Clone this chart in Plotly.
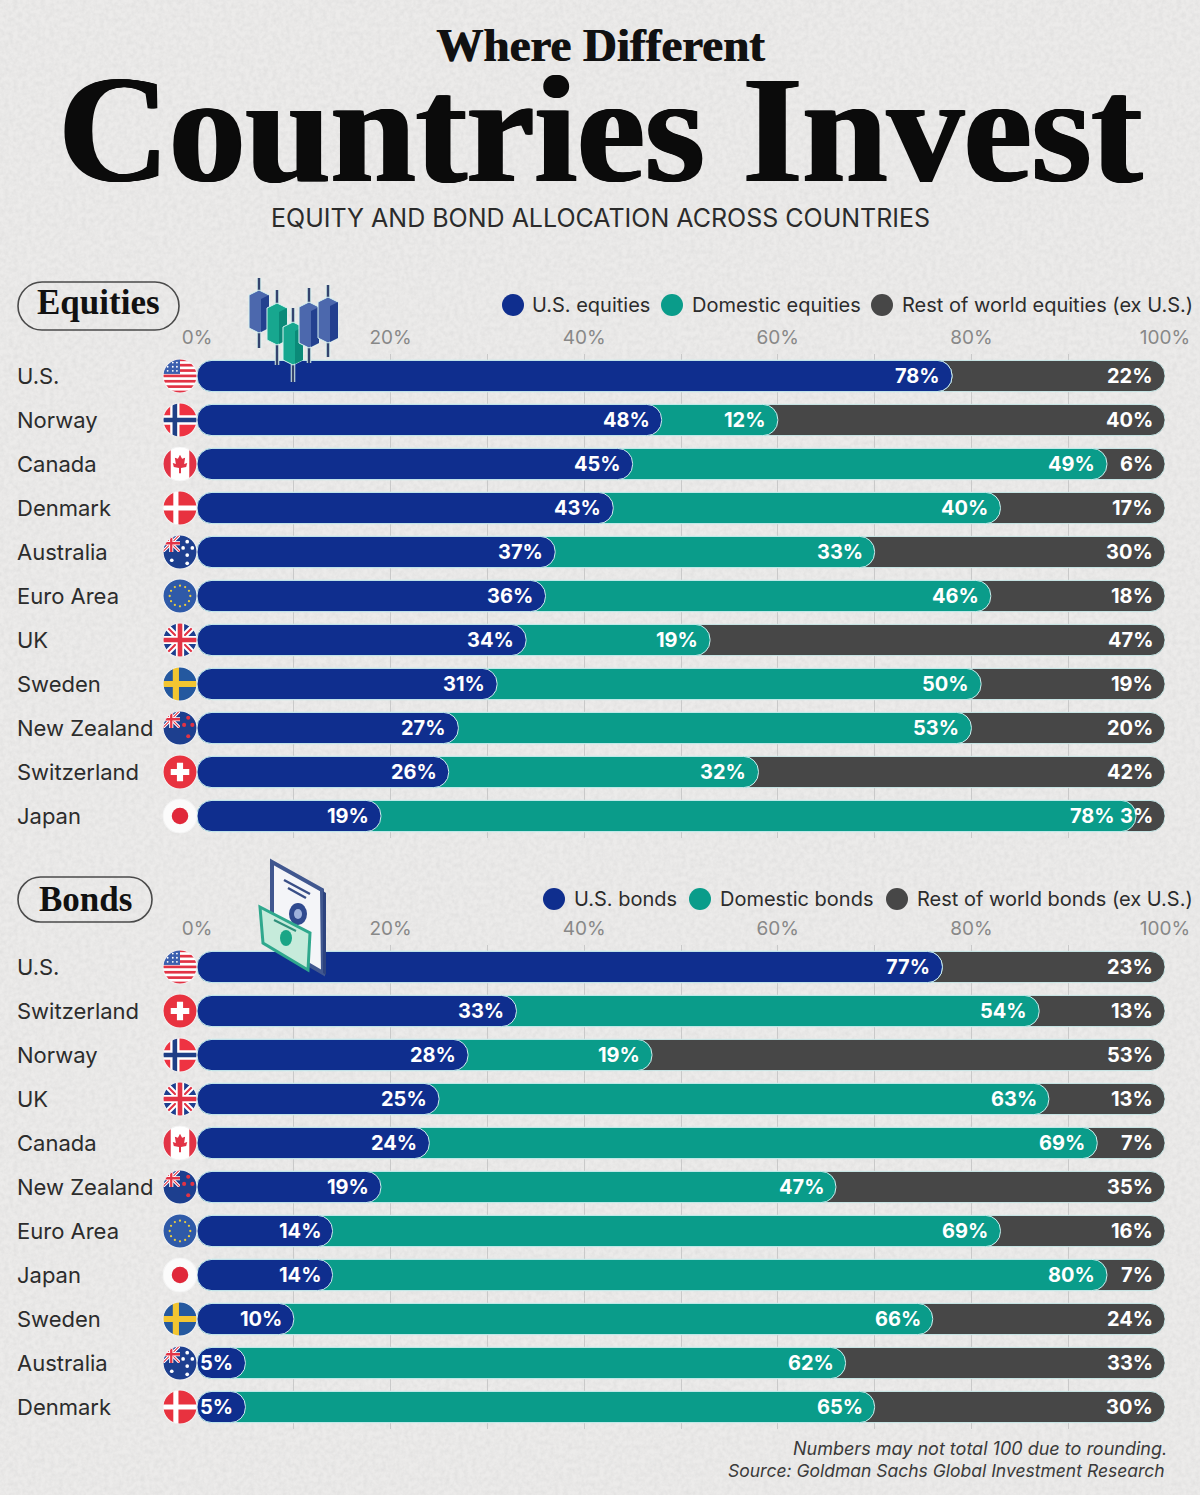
import base64

import plotly.graph_objects as go

W, H = 1200, 1495

eq_countries = ["U.S.", "Norway", "Canada", "Denmark", "Australia", "Euro Area", "UK", "Sweden",
                "New Zealand", "Switzerland", "Japan"]
eq_us = [78, 48, 45, 43, 37, 36, 34, 31, 27, 26, 19]
eq_domestic = [0, 12, 49, 40, 33, 46, 19, 50, 53, 32, 78]
eq_rest = [22, 40, 6, 17, 30, 18, 47, 19, 20, 42, 3]

bd_countries = ["U.S.", "Switzerland", "Norway", "UK", "Canada", "New Zealand", "Euro Area", "Japan",
                "Sweden", "Australia", "Denmark"]
bd_us = [77, 33, 28, 25, 24, 19, 14, 14, 10, 5, 5]
bd_domestic = [0, 54, 19, 63, 69, 47, 69, 80, 66, 62, 65]
bd_rest = [23, 13, 53, 13, 7, 35, 16, 7, 24, 33, 30]

x_ticks = [0, 20, 40, 60, 80, 100]
x_labels = ["0%", "20%", "40%", "60%", "80%", "100%"]

BLUE = "#0f2e8e"
TEAL = "#0a9c8a"
GREY = "#474747"
INK = "#2c2c2c"
SANS = "Inter"
SERIF = "Liberation Serif"


def px(x):
    return x / W


def py(y):
    return 1 - y / H


def svg_uri(body, w=34, h=34):
    svg = f'<svg xmlns="http://www.w3.org/2000/svg" width="{w}" height="{h}" viewBox="0 0 {w} {h}">{body}</svg>'
    return "data:image/svg+xml;base64," + base64.b64encode(svg.encode()).decode()


def flag(body):
    return svg_uri('<defs><clipPath id="c"><circle cx="17" cy="17" r="16.5"/></clipPath></defs>'
                   f'<g clip-path="url(#c)">{body}</g>'
                   '<circle cx="17" cy="17" r="16.5" fill="none" stroke="#f3f3f3" stroke-width="1"/>')


def union(w=34, h=34):
    return (f'<rect width="{w}" height="{h}" fill="#1d3f8f"/>'
            f'<path d="M0 0L{w} {h}M{w} 0L0 {h}" stroke="#fff" stroke-width="6"/>'
            f'<path d="M0 0L{w} {h}M{w} 0L0 {h}" stroke="#e23345" stroke-width="2"/>'
            f'<path d="M{w/2} 0V{h}M0 {h/2}H{w}" stroke="#fff" stroke-width="8"/>'
            f'<path d="M{w/2} 0V{h}M0 {h/2}H{w}" stroke="#e23345" stroke-width="4.5"/>')


def stars(points, color, r=1.8):
    return "".join(f'<circle cx="{a}" cy="{b}" r="{r}" fill="{color}"/>' for a, b in points)


us_stripes = "".join(f'<rect y="{i * 5.2}" width="34" height="2.6" fill="#e23345"/>' for i in range(7))
au_body = ('<rect width="34" height="34" fill="#1d3f8f"/><svg width="17" height="17" viewBox="0 0 34 34">'
           + union() + "</svg>")

FLAGS = {
    "U.S.": flag('<rect width="34" height="34" fill="#fff"/>' + us_stripes
                 + '<rect width="17" height="15" fill="#3b5fae"/>'
                 + stars([(5, 4), (10, 4), (14, 4), (5, 8), (10, 8), (14, 8), (5, 12), (10, 12), (14, 12)], "#fff", 0.9)),
    "Norway": flag('<rect width="34" height="34" fill="#ee3342"/>'
                   '<path d="M12 0V34M0 17H34" stroke="#fff" stroke-width="9"/>'
                   '<path d="M12 0V34M0 17H34" stroke="#1f3f86" stroke-width="4.5"/>'),
    "Canada": flag('<rect width="34" height="34" fill="#fff"/><rect width="8" height="34" fill="#e23345"/>'
                   '<rect x="26" width="8" height="34" fill="#e23345"/>'
                   '<path d="M17 8L19 12L22 11L21 17L24 16L23 20L18 21V26H16V21L11 20L10 16L13 17L12 11L15 12Z" fill="#e23345"/>'),
    "Denmark": flag('<rect width="34" height="34" fill="#e8323f"/><path d="M13 0V34M0 17H34" stroke="#fff" stroke-width="5"/>'),
    "Australia": flag(au_body + stars([(24, 7), (29, 13), (24, 20), (20, 13), (24, 28), (9, 25)], "#fff")),
    "Euro Area": flag('<rect width="34" height="34" fill="#2f5aa8"/>'
                      + stars([(17, 7), (22, 8.3), (25.7, 12), (27, 17), (25.7, 22), (22, 25.7), (17, 27), (12, 25.7),
                               (8.3, 22), (7, 17), (8.3, 12), (12, 8.3)], "#e9cc3f", 1.1)),
    "UK": flag(union()),
    "Sweden": flag('<rect width="34" height="34" fill="#24589f"/><path d="M13 0V34M0 17H34" stroke="#f2c531" stroke-width="6"/>'),
    "New Zealand": flag(au_body + stars([(25, 7), (29, 14), (21, 14), (25, 25)], "#e23345", 2)),
    "Switzerland": flag('<rect width="34" height="34" fill="#e8323f"/><path d="M17 8V26M8 17H26" stroke="#fff" stroke-width="6"/>'),
    "Japan": flag('<rect width="34" height="34" fill="#fbfbfb"/><circle cx="17" cy="17" r="8" fill="#e0283a"/>'),
}


def candle(x, top, bottom, w_top, w_bottom, front, side):
    return (f'<path d="M{x} {w_top}V{w_bottom}" stroke="#d8f3f0" stroke-width="4.5"/>'
            f'<path d="M{x} {w_top}V{w_bottom}" stroke="#34436e" stroke-width="2.5"/>'
            f'<path d="M{x-10} {top}L{x} {top-5}L{x+10} {top}V{bottom}L{x} {bottom+5}L{x-10} {bottom}Z" fill="{front}" '
            f'stroke="#d8f3f0" stroke-width="1"/>'
            f'<path d="M{x+2} {top+4}L{x+10} {top}V{bottom}L{x+2} {bottom+4}Z" fill="{side}"/>')


# icon boxes are 100x110 and 80x125 px
CANDLES = svg_uri(
    candle(12, 17, 50, 0, 70, "#4c68ad", "#23408f")
    + candle(30, 30, 62, 12, 87, "#17a78f", "#0b8a78")
    + candle(46, 49, 82, 30, 104, "#17a78f", "#0b8a78")
    + candle(62, 29, 65, 10, 85, "#4c68ad", "#23408f")
    + candle(81, 24, 60, 7, 79, "#4c68ad", "#23408f"),
    100, 110)

BOND = svg_uri(
    '<path d="M16 4L66 32L67 115L16 85Z" fill="#f4f5f8" stroke="#40578f" stroke-width="4"/>'
    '<path d="M67 33L70 35V117L67 115Z" fill="#2d437e"/>'
    '<path d="M28 22L54 36M32 30L50 40" stroke="#3a4f86" stroke-width="2.5"/>'
    '<ellipse cx="42" cy="56" rx="9" ry="11" fill="#304a8f"/><ellipse cx="42" cy="56" rx="4" ry="5" fill="#9fb2dc"/>'
    '<path d="M4 49L54 75L52 112L7 85Z" fill="#c6ebdb" stroke="#2fa88d" stroke-width="3"/>'
    '<ellipse cx="30" cy="80" rx="6" ry="8" fill="#1aa586"/>'
    '<path d="M18 62L40 73" stroke="#2f8f7b" stroke-width="2"/>',
    80, 125)

# paper grain for the page background
GRAIN = svg_uri(
    '<filter id="n"><feTurbulence type="fractalNoise" baseFrequency="0.22" numOctaves="4" seed="4"/>'
    '<feColorMatrix values="0 0 0 0 0.6 0 0 0 0 0.6 0 0 0 0 0.6 0.55 0 0 0 -0.17"/></filter>'
    f'<rect width="{W}" height="{H}" fill="#ecebea"/><rect width="{W}" height="{H}" filter="url(#n)"/>', W, H)


def pill(x0, y0, x1, y1):
    r = (y1 - y0) / 2
    k = r * 0.45
    pts = (f"M{px(x0 + r)},{py(y0)} L{px(x1 - r)},{py(y0)} "
           f"C{px(x1 - k)},{py(y0)} {px(x1)},{py(y0 + k)} {px(x1)},{py(y0 + r)} "
           f"C{px(x1)},{py(y1 - k)} {px(x1 - k)},{py(y1)} {px(x1 - r)},{py(y1)} "
           f"L{px(x0 + r)},{py(y1)} "
           f"C{px(x0 + k)},{py(y1)} {px(x0)},{py(y1 - k)} {px(x0)},{py(y0 + r)} "
           f"C{px(x0)},{py(y0 + k)} {px(x0 + k)},{py(y0)} {px(x0 + r)},{py(y0)} Z")
    return dict(type="path", xref="paper", yref="paper", path=pts, line=dict(color="#4a4a4a", width=1.6))


def note(x, y, text, size, color=INK, family=SANS, anchor="left", bold=False, shadow=None):
    font = dict(size=size, color=color, family=family)
    if shadow:
        font["shadow"] = shadow
    return dict(xref="paper", yref="paper", x=px(x), y=py(y), text=f"<b>{text}</b>" if bold else text,
                showarrow=False, xanchor=anchor, yanchor="middle", font=font)


fig = go.Figure()
annotations = []
images = [dict(source=GRAIN, xref="paper", yref="paper", x=0, y=1, sizex=1, sizey=1,
               xanchor="left", yanchor="top", sizing="stretch", layer="below")]
shapes = []

panels = [("x", "y", eq_countries, eq_us, eq_domestic, eq_rest),
          ("x2", "y2", bd_countries, bd_us, bd_domestic, bd_rest)]
for xa, ya, countries, us, domestic, rest in panels:
    both = [a + b for a, b in zip(us, domestic)]
    # overlaid from long to short so each segment's rounded end sits on the next one
    for values, color in [([100] * len(us), GREY), (both, TEAL), (us, BLUE)]:
        fig.add_trace(go.Bar(x=values, y=countries, base=[0] * len(us), orientation="h", xaxis=xa, yaxis=ya,
                             showlegend=False,
                             marker=dict(color=color, cornerradius=15, line=dict(color="#cdeeee", width=1))))
    for i, name in enumerate(countries):
        annotations.append(dict(xref="paper", yref=ya, x=px(15), y=name, text=name, showarrow=False,
                                xanchor="left", font=dict(size=22, color=INK, family=SANS)))
        images.append(dict(source=FLAGS[name], xref="paper", yref=ya, x=px(180), y=i, sizex=px(35), sizey=0.8,
                           xanchor="center", yanchor="middle", layer="above"))
        # a very short last segment pushes the middle label further left
        mid_shift = -19 if rest[i] < 5 else -10
        ends = [(us[i], us[i], -10), (both[i], domestic[i], mid_shift), (100, rest[i], -10)]
        for end, val, shift in ends:
            if val:
                annotations.append(dict(xref=xa, yref=ya, x=end, y=name, text=f"<b>{val}%</b>", showarrow=False,
                                        xanchor="right", xshift=shift,
                                        font=dict(size=20, color="#ffffff", family=SANS)))

images.append(dict(source=CANDLES, xref="paper", yref="paper", x=px(247), y=py(278), sizex=px(100), sizey=110 / H,
                   xanchor="left", yanchor="top", layer="above"))
images.append(dict(source=BOND, xref="paper", yref="paper", x=px(256), y=py(858), sizex=px(80), sizey=125 / H,
                   xanchor="left", yanchor="top", layer="above"))

HEAVY = "1px 0 0 #0b0b0b, -1px 0 0 #0b0b0b, 2px 0 0 #0b0b0b"
annotations += [
    note(600, 45, "Where Different", 47, "#111111", SERIF, "center", True, "1px 0 0 #111111"),
    note(600, 130, "Countries Invest", 153, "#0b0b0b", SERIF, "center", True, HEAVY),
    note(600, 218, "EQUITY AND BOND ALLOCATION ACROSS COUNTRIES", 25, "#2b2b2b", SANS, "center"),
    note(98, 302, "Equities", 35, "#111111", SERIF, "center", True),
    note(85, 899, "Bonds", 35, "#111111", SERIF, "center", True),
    note(1169, 1448, "<i>Numbers may not total 100 due to rounding.</i>", 18, "#3a3a3a", SANS, "right"),
    note(1167, 1470, "<i>Source: Goldman Sachs Global Investment Research</i>", 17.5, "#3a3a3a", SANS, "right"),
]
shapes += [pill(18, 282, 179, 330), pill(18, 877, 152, 922)]

legend_items = [
    (305, 513, 530, "U.S. equities", BLUE), (305, 672, 690, "Domestic equities", TEAL),
    (305, 882, 900, "Rest of world equities (ex U.S.)", GREY),
    (899, 554, 572, "U.S. bonds", BLUE), (899, 700, 718, "Domestic bonds", TEAL),
    (899, 897, 915, "Rest of world bonds (ex U.S.)", GREY),
]
for y, cx, tx, label, color in legend_items:
    shapes.append(dict(type="circle", xref="paper", yref="paper", x0=px(cx - 11), x1=px(cx + 11),
                       y0=py(y + 11), y1=py(y - 11), fillcolor=color, line=dict(width=0)))
    annotations.append(note(tx, y, label, 20, INK))

x_common = dict(range=[0, 100], side="top", tickvals=x_ticks, ticktext=x_labels, ticklen=0, showline=False,
                zeroline=False, showgrid=True, gridcolor="#c9c9c9", gridwidth=1,
                minor=dict(dtick=10, showgrid=True, gridcolor="#c9c9c9", gridwidth=1),
                tickfont=dict(size=19, color="#888888", family=SANS), ticklabelstandoff=5,
                domain=[px(197), px(1165)])
y_common = dict(autorange="reversed", type="category", showticklabels=False, ticklen=0, showgrid=False,
                zeroline=False, showline=False)

fig.update_layout(
    width=W, height=H, margin=dict(l=0, r=0, t=0, b=0, autoexpand=False), barmode="overlay", bargap=0.29,
    paper_bgcolor="#ebebea", plot_bgcolor="rgba(0,0,0,0)",
    xaxis=dict(anchor="y", **x_common), xaxis2=dict(anchor="y2", **x_common),
    yaxis=dict(anchor="x", domain=[py(838), py(354)], **y_common),
    yaxis2=dict(anchor="x2", domain=[py(1429), py(945)], **y_common),
    annotations=annotations, images=images, shapes=shapes,
)

fig.write_html("out.html", config={"displayModeBar": False}, post_script="document.body.style.margin='0';")
